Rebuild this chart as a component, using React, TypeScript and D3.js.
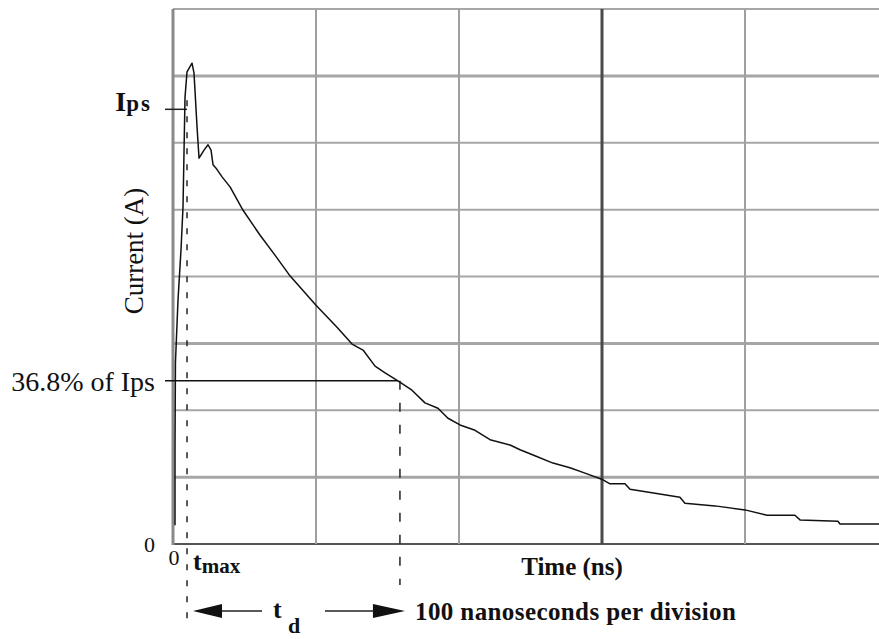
import * as d3 from "d3";

// waveform: time in ns, current in vertical divisions
const timeNs = [
  1.4, 1.4, 1.7, 3.5, 5.6, 7.0, 8.4, 9.8, 13.3, 14.7, 16.8, 18.2, 21.7, 24.5,
  26.6, 28.0, 30.1, 34.3, 39.9, 49.0, 60.8, 71.3, 81.8, 100, 114.7, 125.2,
  132.9, 141.3, 148.3, 157.3, 167.1, 176.2, 185.3, 192.3, 200.7, 211.2, 221.7,
  235.7, 242.7, 253.1, 265.7, 277.6, 288.1, 300.7, 305.6, 316.1, 319.6, 337.1,
  354.5, 358.0, 379.0, 400, 415.4, 434.9, 438.5, 465.0, 466.4, 493.7,
];
const currentDiv = [
  0.28, 1.41, 2.71, 3.65, 4.4, 5.04, 6.68, 7.06, 7.19, 7.04, 6.24, 5.77, 5.89,
  5.97, 5.89, 5.67, 5.62, 5.49, 5.34, 4.99, 4.62, 4.32, 4.01, 3.57, 3.24, 2.99,
  2.9, 2.66, 2.56, 2.44, 2.3, 2.11, 2.03, 1.88, 1.78, 1.7, 1.56, 1.48, 1.41,
  1.32, 1.21, 1.14, 1.06, 0.96, 0.9, 0.9, 0.82, 0.76, 0.7, 0.61, 0.57, 0.51,
  0.43, 0.43, 0.36, 0.34, 0.3, 0.3,
];

const xGrid = [0, 100, 200, 300, 400, 500];
const yGrid = [0, 1, 2, 3, 4, 5, 6, 7, 8];
const thickY = [1, 3, 7];
const darkX = [300];

const ipsLevel = 6.5;
const decayLevel = 2.44; // 36.8% of Ips
const tMax = 9.8;
const tD = 158.7;

const W = 879;
const H = 639;

export default function App() {
  const x = d3.scaleLinear().domain([0, 500]).range([173, 888]);
  const y = d3.scaleLinear().domain([0, 8]).range([544, 9]);

  const pts = timeNs.map((t, i) => [t, currentDiv[i]] as [number, number]);
  const line = d3
    .line<[number, number]>()
    .x((d) => x(d[0]))
    .y((d) => y(d[1]))
    .curve(d3.curveLinear);

  const serif = "'Liberation Serif', 'Times New Roman', serif";
  const xm = x(tMax);
  const xd = x(tD);
  const arrowY = 611;

  return (
    <div style={{ position: "absolute", left: 0, top: 0 }}>
      <svg width={W} height={H} style={{ display: "block", background: "#fff" }}>
        {/* grid */}
        {yGrid.map((v) => (
          <line
            key={"h" + v}
            x1={x(0)}
            x2={W}
            y1={y(v)}
            y2={y(v)}
            stroke={v === 0 ? "#555" : "#a6a6a6"}
            strokeWidth={thickY.includes(v) ? 3 : 2}
          />
        ))}
        {xGrid.slice(1).map((t) => (
          <line
            key={"v" + t}
            x1={x(t)}
            x2={x(t)}
            y1={y(8)}
            y2={y(0)}
            stroke={darkX.includes(t) ? "#4a4a4a" : "#a0a0a0"}
            strokeWidth={darkX.includes(t) ? 3 : 2}
          />
        ))}
        <line x1={x(0)} x2={x(0)} y1={y(8)} y2={y(0) + 1} stroke="#8a8a8a" strokeWidth={3} />

        {/* Ips and 36.8% markers */}
        <line x1={165} x2={xm} y1={y(ipsLevel)} y2={y(ipsLevel)} stroke="#222" strokeWidth={1.5} />
        <line x1={165} x2={xd - 2} y1={y(decayLevel)} y2={y(decayLevel)} stroke="#111" strokeWidth={1.5} />
        <line x1={xm} x2={xm} y1={y(ipsLevel) - 9} y2={627} stroke="#222" strokeWidth={1.5} strokeDasharray="6 10" />
        <line x1={xd} x2={xd} y1={y(decayLevel)} y2={585} stroke="#222" strokeWidth={1.5} strokeDasharray="9 13" />

        {/* trace */}
        <path d={line(pts) ?? ""} fill="none" stroke="#111" strokeWidth={1.5} strokeLinejoin="round" />

        {/* arrows */}
        <line x1={xm + 20} x2={262} y1={arrowY} y2={arrowY} stroke="#222" strokeWidth={1.5} />
        <path d={`M${xm + 6},${arrowY} L${xm + 35},${arrowY - 7} L${xm + 35},${arrowY + 7} Z`} fill="#111" />
        <line x1={325} x2={xd - 20} y1={arrowY} y2={arrowY} stroke="#222" strokeWidth={1.5} />
        <path d={`M${xd + 5},${arrowY} L${xd - 27},${arrowY - 7} L${xd - 27},${arrowY + 7} Z`} fill="#111" />

        {/* labels */}
        <g fontFamily={serif} fill="#111">
          <text x={152} y={111} textAnchor="end" fontWeight="bold">
            <tspan fontSize={28}>I</tspan>
            <tspan fontSize={23} letterSpacing={2}>ps</tspan>
          </text>
          <text x={155} y={391} textAnchor="end" fontSize={28}>
            36.8% of Ips
          </text>
          <text x={155} y={552} textAnchor="end" fontSize={22}>
            0
          </text>
          <text x={174} y={565} textAnchor="middle" fontSize={22}>
            0
          </text>
          <text x={193} y={570} fontWeight="bold">
            <tspan fontSize={26}>t</tspan>
            <tspan fontSize={21} dy={3}>max</tspan>
          </text>
          <text transform="translate(143,251) rotate(-90)" textAnchor="middle" fontSize={27}>
            Current (A)
          </text>
          <text x={572} y={575} textAnchor="middle" fontSize={25} fontWeight="bold">
            Time (ns)
          </text>
          <text x={273} y={618} fontSize={26} fontWeight="bold">
            t
          </text>
          <text x={288} y={633} fontSize={22} fontWeight="bold">
            d
          </text>
          <text x={415} y={620} fontSize={25} fontWeight="bold" letterSpacing={0.4}>
            100 nanoseconds per division
          </text>
        </g>
      </svg>
    </div>
  );
}
